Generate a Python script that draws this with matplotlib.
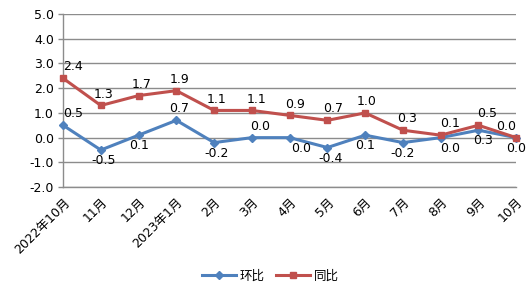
import matplotlib
matplotlib.use("Agg")
import matplotlib.pyplot as plt

categories = ["2022年10月", "11月", "12月", "2023年1月", "2月", "3月", "4月",
              "5月", "6月", "7月", "8月", "9月", "10月"]
mom = [0.5, -0.5, 0.1, 0.7, -0.2, 0.0, 0.0, -0.4, 0.1, -0.2, 0.0, 0.3, 0.0]
yoy = [2.4, 1.3, 1.7, 1.9, 1.1, 1.1, 0.9, 0.7, 1.0, 0.3, 0.1, 0.5, 0.0]
yticks = [-2.0, -1.0, 0.0, 1.0, 2.0, 3.0, 4.0, 5.0]

# label placement styling (not data)
mom_above = [True, False, False, True, False, True, False,
             False, False, False, False, False, False]
mom_dx = [7, 2, 0, 2, 2, 6, 8, 2, 0, 0, 7, 3, 0]
yoy_dx = [7, 2, 2, 2, 2, 3, 4, 4, 1, 3, 7, 6, -7]

plt.rcParams['font.family'] = ['DejaVu Sans', 'Noto Sans CJK SC']

fig = plt.figure(figsize=(5.30, 2.91), dpi=100)
ax = fig.add_axes([0.119, 0.357, 0.855, 0.595])

blue = "#4F81BD"
red = "#C0504D"
grid = "#8c8c8c"
x = list(range(len(categories)))

ax.plot(x, mom, color=blue, lw=2.2, marker="D", ms=4, label="环比", zorder=3,
        clip_on=False)
ax.plot(x, yoy, color=red, lw=2.2, marker="s", ms=5, label="同比", zorder=3,
        clip_on=False)

fs = 9
for i, v in enumerate(yoy):
    ax.annotate(f"{v:.1f}", (i, v), xytext=(yoy_dx[i], 3.5), textcoords="offset points",
                ha="center", va="bottom", fontsize=fs, annotation_clip=False)
for i, v in enumerate(mom):
    if mom_above[i]:
        ax.annotate(f"{v:.1f}", (i, v), xytext=(mom_dx[i], 3.5), textcoords="offset points",
                    ha="center", va="bottom", fontsize=fs, annotation_clip=False)
    else:
        ax.annotate(f"{v:.1f}", (i, v), xytext=(mom_dx[i], -3), textcoords="offset points",
                    ha="center", va="top", fontsize=fs, annotation_clip=False)

ax.set_xlim(0, len(x) - 1)
ax.set_ylim(-2.0, 5.0)
ax.set_yticks(yticks)
ax.set_yticklabels([f"{t:.1f}" for t in yticks], fontsize=fs)
ax.yaxis.grid(True, color=grid, lw=1.0)
ax.set_axisbelow(True)
ax.set_xticks(x)
ax.set_xticklabels(categories, rotation=45, ha="right", va="top",
                   rotation_mode="anchor", fontsize=fs)
ax.tick_params(axis="x", length=0, pad=6)
ax.tick_params(axis="y", length=3.5, color=grid, width=1.0, pad=3)
for s in ["top", "right"]:
    ax.spines[s].set_visible(False)
for s in ["left", "bottom"]:
    ax.spines[s].set_color(grid)
    ax.spines[s].set_linewidth(1.0)

fig.legend(loc="lower center", bbox_to_anchor=(0.51, -0.01), ncol=2,
           frameon=False, handlelength=2.7, columnspacing=0.9, handletextpad=0.3,
           prop={'family': ['Noto Sans CJK SC', 'DejaVu Sans'], 'size': fs})

fig.savefig("out.png", dpi=100)
